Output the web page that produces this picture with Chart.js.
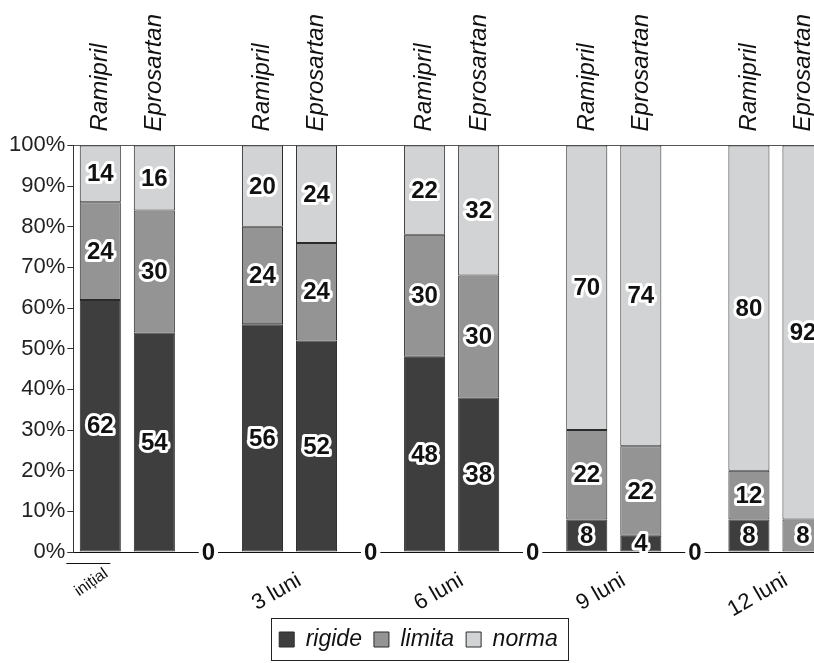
<!DOCTYPE html>
<html>
<head>
<meta charset="utf-8">
<title>Rigide / limita / norma</title>
<script src="https://cdn.jsdelivr.net/npm/chart.js@4/dist/chart.umd.min.js"></script>
<style>
    html, body { margin: 0; padding: 0; background: #fff; overflow: hidden; }
    #wrap { width: 814px; height: 663px; overflow: hidden; }
    canvas { display: block; }
</style>
</head>
<body>
<div id="wrap"><canvas id="stackChart" width="836" height="663"></canvas></div>
<script>
// Drug per column; empty columns separate the time points
const categories = ['Ramipril', 'Eprosartan', '', 'Ramipril', 'Eprosartan', '', 'Ramipril', 'Eprosartan', '', 'Ramipril', 'Eprosartan', '', 'Ramipril', 'Eprosartan'];
const periods = ['inițial', '3 luni', '6 luni', '9 luni', '12 luni'];
const rigide = [62, 54, 0, 56, 52, 0, 48, 38, 0, 8, 4, 0, 8, 0];
const limita = [24, 30, null, 24, 24, null, 30, 30, null, 22, 22, null, 12, 8];
const norma = [14, 16, null, 20, 24, null, 22, 32, null, 70, 74, null, 80, 92];
const yTicks = [0, 10, 20, 30, 40, 50, 60, 70, 80, 90, 100];

const FONT = '"Liberation Sans", Arial, sans-serif';

// Bold numbers with a white halo, centred in each segment
const valueLabels = {
    id: 'valueLabels',
    afterDatasetsDraw(chart) {
        const ctx = chart.ctx;
        ctx.save();
        ctx.font = 'bold 24px ' + FONT;
        ctx.textAlign = 'center';
        ctx.textBaseline = 'middle';
        ctx.lineJoin = 'round';
        chart.data.datasets.forEach((ds, di) => {
            const meta = chart.getDatasetMeta(di);
            meta.data.forEach((bar, i) => {
                const v = ds.data[i];
                let y;
                if (v > 0) {
                    y = (bar.y + bar.base) / 2;
                } else if (v === 0 && di === 0 && categories[i] === '') {
                    y = bar.base;
                } else {
                    return;
                }
                const txt = String(v);
                ctx.strokeStyle = '#fff';
                ctx.lineWidth = v === 0 ? 8 : 6;
                ctx.strokeText(txt, bar.x, y + 1);
                ctx.fillStyle = '#111';
                ctx.fillText(txt, bar.x, y + 1);
            });
        });
        ctx.restore();
    }
};

// Slanted time point labels under each pair of bars
const periodLabels = {
    id: 'periodLabels',
    afterDraw(chart) {
        const ctx = chart.ctx;
        const x = chart.scales.x;
        const base = chart.chartArea.bottom;
        ctx.save();
        ctx.fillStyle = '#111';
        ctx.textAlign = 'right';
        ctx.textBaseline = 'middle';
        periods.forEach((p, g) => {
            const first = x.getPixelForValue(g * 3);
            const second = x.getPixelForValue(g * 3 + 1);
            let ax, ay, angle;
            if (g === 0) {
                ctx.font = '16px ' + FONT;
                ax = first + 6;
                ay = base + 20;
                angle = 35;
                ctx.strokeStyle = '#111';
                ctx.lineWidth = 1.2;
                ctx.beginPath();
                ctx.moveTo(first - 34, base + 11.5);
                ctx.lineTo(first + 10, base + 11.5);
                ctx.stroke();
            } else {
                ctx.font = '22px ' + FONT;
                ax = (first + second) / 2 + 10;
                ay = base + 27;
                angle = 30;
            }
            ctx.save();
            ctx.translate(ax, ay);
            ctx.rotate(-angle * Math.PI / 180);
            ctx.fillText(p, 0, 0);
            ctx.restore();
        });
        ctx.restore();
    }
};

// Frame around the legend
const legendFrame = {
    id: 'legendFrame',
    afterDraw(chart) {
        const boxes = chart.legend && chart.legend.legendHitBoxes;
        if (!boxes || !boxes.length) return;
        const left = Math.min(...boxes.map(b => b.left)) - 8;
        const right = Math.max(...boxes.map(b => b.left + b.width)) + 10;
        const top = Math.min(...boxes.map(b => b.top)) - 10;
        const bottom = Math.max(...boxes.map(b => b.top + b.height)) + 9;
        const ctx = chart.ctx;
        ctx.save();
        ctx.strokeStyle = '#222';
        ctx.lineWidth = 1;
        ctx.strokeRect(Math.round(left) + 0.5, Math.round(top) + 0.5, Math.round(right - left), Math.round(bottom - top));
        ctx.restore();
    }
};

const ctx = document.getElementById('stackChart').getContext('2d');
new Chart(ctx, {
    type: 'bar',
    data: {
        labels: categories,
        datasets: [
            {
                label: 'rigide',
                data: rigide,
                backgroundColor: '#3e3e3e',
                borderColor: '#2a2a2a',
                borderWidth: 1,
                borderSkipped: false
            },
            {
                label: 'limita',
                data: limita,
                backgroundColor: '#949494',
                borderColor: '#2a2a2a',
                borderWidth: 1,
                borderSkipped: false
            },
            {
                label: 'norma',
                data: norma,
                backgroundColor: '#d2d3d4',
                borderColor: '#2a2a2a',
                borderWidth: 1,
                borderSkipped: false
            }
        ]
    },
    options: {
        responsive: false,
        animation: false,
        barPercentage: 0.76,
        categoryPercentage: 1.0,
        layout: {
            padding: { left: 7, right: 6, top: 0, bottom: 2 }
        },
        plugins: {
            legend: {
                position: 'bottom',
                labels: {
                    boxWidth: 15,
                    boxHeight: 15,
                    padding: 12,
                    color: '#111',
                    font: { family: FONT, size: 23, style: 'italic' }
                }
            },
            tooltip: { enabled: false }
        },
        scales: {
            x: {
                stacked: true,
                grid: { display: false, drawTicks: false },
                border: { display: true, color: '#111', width: 1 },
                ticks: { display: false },
                afterFit(scale) { scale.height = 64; }
            },
            xTop: {
                type: 'category',
                position: 'top',
                labels: categories,
                offset: true,
                grid: { display: false, drawTicks: false },
                border: { display: true, color: '#555', width: 1 },
                ticks: {
                    autoSkip: false,
                    minRotation: 90,
                    maxRotation: 90,
                    padding: 14,
                    labelOffset: 29,
                    color: '#111',
                    font: { family: FONT, size: 24, style: 'italic' }
                }
            },
            y: {
                stacked: true,
                min: 0,
                max: 100,
                afterBuildTicks(scale) {
                    scale.ticks = yTicks.map(v => ({ value: v }));
                },
                grid: { drawOnChartArea: false, drawTicks: true, tickLength: 6, color: '#333' },
                border: { display: true, color: '#333', width: 1 },
                ticks: {
                    padding: 2,
                    color: '#222',
                    font: { family: FONT, size: 22 },
                    callback: v => v + '%'
                }
            }
        }
    },
    plugins: [valueLabels, periodLabels, legendFrame]
});
</script>
</body>
</html>
